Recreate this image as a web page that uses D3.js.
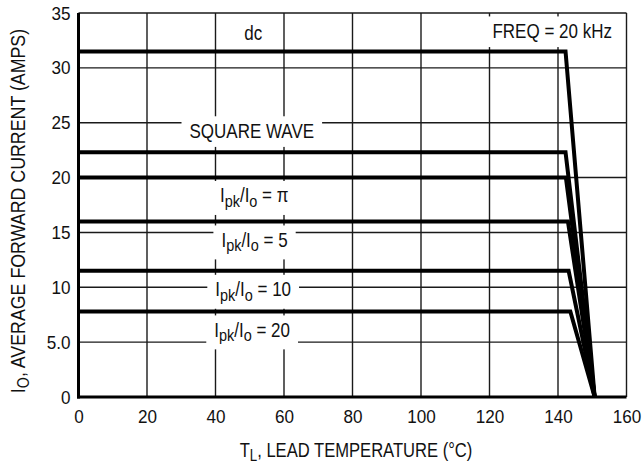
<!DOCTYPE html>
<html>
<head>
<meta charset="utf-8">
<script src="https://cdn.jsdelivr.net/npm/d3@7"></script>
<style>
  html, body { margin: 0; padding: 0; background: #fff; }
  svg { display: block; }
  text { font-family: "Liberation Sans", Arial, Helvetica, sans-serif; fill: #111; }
</style>
</head>
<body>
<svg id="chart" width="644" height="472"></svg>
<script>
// Derating curves: flat current up to a knee temperature, then linear down to zero
const seriesNames  = ["dc", "SQUARE WAVE", "Ipk/Io = π", "Ipk/Io = 5", "Ipk/Io = 10", "Ipk/Io = 20"];
const flatCurrent  = [31.5, 22.3, 20.0, 16.0, 11.5, 7.8];        // amps
const kneeTemp     = [142.2, 142.2, 142.3, 142.9, 143.1, 143.6]; // °C
const zeroTemp     = 150.7; // °C, where every curve reaches 0 A

const xTicks = [0, 20, 40, 60, 80, 100, 120, 140, 160];
const yTicks = [0, 5, 10, 15, 20, 25, 30, 35];
const yTickLabels = ["0", "5.0", "10", "15", "20", "25", "30", "35"];

// Curve labels as [text, isSubscript] runs, anchored at (°C, A)
const labelParts = [
  [["dc", false]],
  [["SQUARE WAVE", false]],
  [["I", false], ["pk", true], ["/I", false], ["o", true], [" = π", false]],
  [["I", false], ["pk", true], ["/I", false], ["o", true], [" = 5", false]],
  [["I", false], ["pk", true], ["/I", false], ["o", true], [" = 10", false]],
  [["I", false], ["pk", true], ["/I", false], ["o", true], [" = 20", false]]
];
const labelTemp    = [51.0, 50.6, 51.3, 51.4, 51.0, 50.7];
const labelCurrent = [33.2, 24.3, 18.4, 14.35, 9.85, 6.15];

const freqText = "FREQ = 20 kHz";
const freqTemp = 138.3, freqCurrent = 33.4;

const svg = d3.select("#chart");
const margin = { left: 78.5, right: 644 - 626.5, top: 13, bottom: 472 - 397 };
const W = 644 - margin.left - margin.right;
const H = 472 - margin.top - margin.bottom;

const x = d3.scaleLinear().domain([0, 160]).range([margin.left, margin.left + W]);
const y = d3.scaleLinear().domain([0, 35]).range([margin.top + H, margin.top]);

// condensed look: horizontally squeezed glyphs
const SQ = 0.85;

const g = svg.append("g");

// grid
const grid = g.append("g").attr("stroke", "#1a1a1a").attr("stroke-width", 1.4);
grid.selectAll("line.v").data(xTicks.slice(1, -1)).join("line")
  .attr("x1", d => x(d)).attr("x2", d => x(d))
  .attr("y1", y(0)).attr("y2", y(35));
grid.selectAll("line.h").data(yTicks.slice(1, -1)).join("line")
  .attr("y1", d => y(d)).attr("y2", d => y(d))
  .attr("x1", x(0)).attr("x2", x(160));

// frame: light top/right
g.append("line").attr("x1", x(0)).attr("x2", x(160)).attr("y1", y(35)).attr("y2", y(35))
  .attr("stroke", "#1a1a1a").attr("stroke-width", 1.4);
g.append("line").attr("x1", x(160)).attr("x2", x(160)).attr("y1", y(0)).attr("y2", y(35))
  .attr("stroke", "#1a1a1a").attr("stroke-width", 1.4);

// curve labels (text squeezed horizontally around its anchor)
const labelLayer = g.append("g");
function addLabel(parts, tx, cy, size, sx) {
  const px = x(tx), py = y(cy) + size * 0.36;
  const t = labelLayer.append("text")
    .attr("transform", `translate(${px},${py}) scale(${sx},1)`)
    .attr("text-anchor", "middle")
    .style("font-size", size + "px");
  parts.forEach(([s, sub], k) => {
    const ts = t.append("tspan").text(s);
    if (sub) ts.attr("dy", size * 0.22).style("font-size", (size * 0.85) + "px");
    else if (k > 0) ts.attr("dy", -size * 0.22);
  });
  return { t, px, py, sx };
}

const labelNodes = labelParts.map((p, i) => addLabel(p, labelTemp[i], labelCurrent[i], 20, SQ));
const freqNode = addLabel([[freqText, false]], freqTemp, freqCurrent, 20, SQ);

// white boxes mask the grid behind labels (dc sits in a clear cell)
labelNodes.concat([freqNode]).forEach((n, i) => {
  if (i === 0) return;
  const b = n.t.node().getBBox();
  labelLayer.insert("rect", "text")
    .attr("x", n.px + b.x * n.sx - 8).attr("width", b.width * n.sx + 16)
    .attr("y", n.py + b.y - 3).attr("height", b.height + 8)
    .attr("fill", "#fff");
});

// curves
const line = d3.line().x(d => x(d[0])).y(d => y(d[1]));
g.append("g").selectAll("path").data(seriesNames).join("path")
  .attr("d", (d, i) => line([[0, flatCurrent[i]], [kneeTemp[i], flatCurrent[i]], [zeroTemp, 0]]))
  .attr("fill", "none").attr("stroke", "#000").attr("stroke-width", 4)
  .attr("stroke-linejoin", "miter");

// heavy left and bottom axes
g.append("line").attr("x1", x(0)).attr("x2", x(0)).attr("y1", y(0) + 1.5).attr("y2", y(35))
  .attr("stroke", "#000").attr("stroke-width", 3);
g.append("line").attr("x1", x(0) - 1.5).attr("x2", x(160)).attr("y1", y(0)).attr("y2", y(0))
  .attr("stroke", "#000").attr("stroke-width", 3);

// tick labels
const TS = 0.9;
const xAxis = d3.axisBottom(x).tickValues(xTicks).tickSize(0).tickPadding(13);
g.append("g").attr("transform", `translate(0,${y(0)})`).call(xAxis)
  .call(s => s.select(".domain").remove())
  .call(s => s.selectAll("text").style("font-size", "19px").attr("fill", "#111")
    .style("font-family", null).attr("transform", `scale(${TS},1)`));

const yAxis = d3.axisLeft(y).tickValues(yTicks).tickSize(0).tickPadding(9)
  .tickFormat((d, i) => yTickLabels[i]);
g.append("g").attr("transform", `translate(${x(0)},0)`).call(yAxis)
  .call(s => s.select(".domain").remove())
  .call(s => s.selectAll("text").style("font-size", "19px").attr("fill", "#111")
    .style("font-family", null).attr("transform", `scale(${TS},1)`));

// axis titles
const xt = svg.append("text").attr("transform", "translate(356,457) scale(0.83,1)")
  .attr("text-anchor", "middle").style("font-size", "20px");
xt.append("tspan").text("T");
xt.append("tspan").text("L").attr("dy", 4).style("font-size", "16px");
xt.append("tspan").text(", LEAD TEMPERATURE (°C)").attr("dy", -4);

const yt = svg.append("text").attr("transform", "translate(25,211) rotate(-90) scale(0.89,1)")
  .attr("text-anchor", "middle").style("font-size", "20px");
yt.append("tspan").text("I");
yt.append("tspan").text("O").attr("dy", 4).style("font-size", "16px");
yt.append("tspan").text(", AVERAGE FORWARD CURRENT (AMPS)").attr("dy", -4);
</script>
</body>
</html>
